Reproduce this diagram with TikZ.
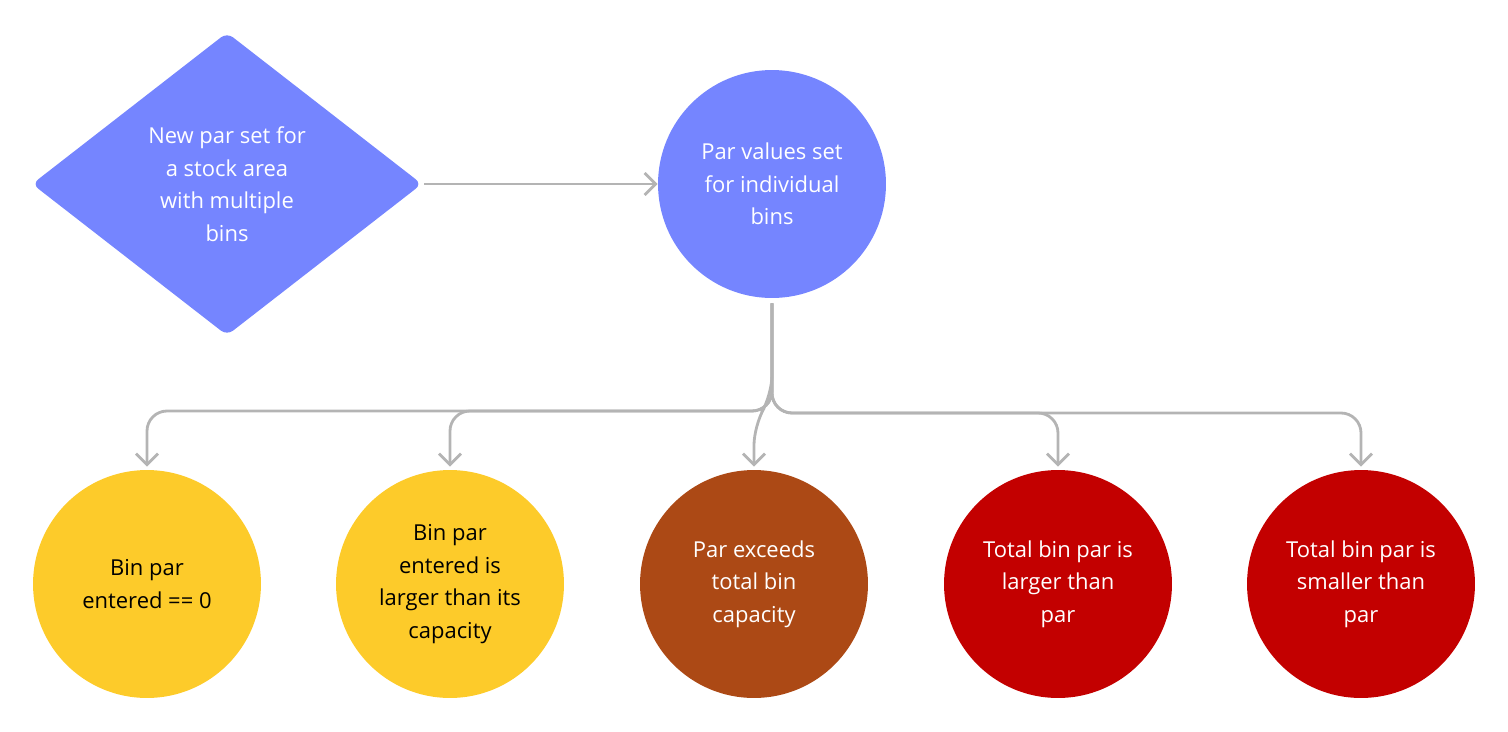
\documentclass[tikz,border=0pt]{standalone}
\usepackage{fontspec}
\setmainfont{Open Sans}
\usetikzlibrary{shapes.geometric,arrows.meta,calc}
\definecolor{parblue}{HTML}{7585FF}
\definecolor{paryel}{HTML}{FDCB2A}
\definecolor{parbrn}{HTML}{AC4915}
\definecolor{parred}{HTML}{C30000}
\definecolor{lnk}{HTML}{B4B4B4}
\tikzset{
    bubble/.style={circle,minimum size=4.56cm,inner sep=0pt,align=center,font=\fontsize{12.5}{18.5}\selectfont},
    link/.style={draw=lnk,line width=1.6pt,-{Straight Barb[length=2.2mm,width=4.4mm]},rounded corners=0.4cm}
}
\begin{document}
\begin{tikzpicture}[x=0.02cm,y=-0.02cm]
    \useasboundingbox (0,0) rectangle (1508,731);

    \node (start) [diamond,fill=parblue,text=white,minimum width=7.8cm,minimum height=6.06cm,
        inner sep=0pt,rounded corners=0.15cm,align=center,font=\fontsize{12.5}{18.5}\selectfont]
        at (227,184) {New par set for\\a stock area\\with multiple\\bins};
    \node (setv) [bubble,fill=parblue,text=white] at (772,184) {Par values set\\for individual\\bins};

    \node (zero) [bubble,fill=paryel]            at (147,584)  {Bin par\\entered == 0};
    \node (cap)  [bubble,fill=paryel]            at (450,584)  {Bin par\\entered is\\larger than its\\capacity};
    \node (exc)  [bubble,fill=parbrn,text=white] at (754,584)  {Par exceeds\\total bin\\capacity};
    \node (big)  [bubble,fill=parred,text=white] at (1058,584) {Total bin par is\\larger than\\par};
    \node (small)[bubble,fill=parred,text=white] at (1361,584) {Total bin par is\\smaller than\\par};

    \draw [link] (start.east) ++(2,0) -- (setv.west);
    \foreach \c/\y in {zero/411,cap/411,big/413,small/413}
        \draw [link] ($(setv.south)+(0,5)$) |- (\c.north |- 0,\y) -- ($(\c.north)+(0,-3)$);
    \draw [link] ($(setv.south)+(0,5)$) -- (772,395) -- (754,425) -- ($(exc.north)+(0,-3)$);
\end{tikzpicture}
\end{document}
